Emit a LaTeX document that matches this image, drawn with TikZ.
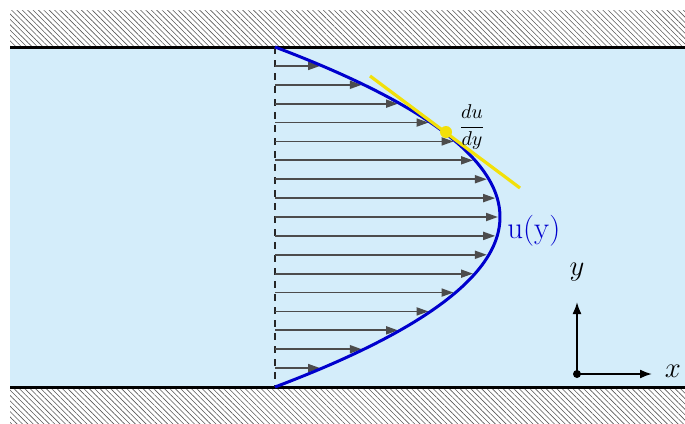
\documentclass[tikz,border=0pt]{standalone}
\usepackage{tikz}
\usetikzlibrary{arrows.meta,patterns.meta,positioning}
\definecolor{fluid}{RGB}{212,237,250}
\definecolor{profileblue}{RGB}{0,0,205}
\definecolor{tangentyellow}{RGB}{242,224,10}

\begin{document}
\begin{tikzpicture}[
    x=0.5pt, y=-0.5pt,
    % Walls
    wall/.style={pattern={Lines[angle=-45, distance=1.9pt, line width=0.3pt]}, pattern color=black!65},
    wallline/.style={line width=1.5pt, draw=black},
    % Velocity profile
    vel/.style={-{Triangle[length=6pt,width=4pt]}, line width=0.9pt, draw=black!70},
    profile/.style={line width=1.5pt, draw=profileblue},
    tangent/.style={line width=1.6pt, draw=tangentyellow},
    % Axes
    axis/.style={-{Latex[length=6pt,width=4.5pt]}, line width=0.9pt, draw=black},
    lbl/.style={font=\Large, inner sep=1pt}
]
\useasboundingbox (0,0) rectangle (685,423);

% Fluid and walls
\fill[fluid] (10,47) rectangle (685,387);
\fill[wall] (10,10) rectangle (685,47);
\fill[wall] (10,387) rectangle (685,423);
\draw[wallline] (10,47) -- (685,47);
\draw[wallline] (10,387) -- (685,387);

% Reference line
\coordinate (top) at (275,47);
\coordinate (bottom) at (275,387);
\draw[line width=0.7pt, draw=black!85, dash pattern=on 3.5pt off 3pt] (top) -- (bottom);

% Velocity arrows
\foreach \i in {1,...,17} {
    \pgfmathsetmacro{\yy}{47+\i*340/18}
    \pgfmathsetmacro{\uu}{275+225*(1-((\yy-217)/170)^2)-2}
    \coordinate (v\i) at (275,\yy);
    \coordinate (w\i) at (\uu,\yy);
    \draw[vel] (v\i) -- (w\i);
}

% Profile
\draw[profile] plot[domain=47:387, samples=80, smooth] ({275+225*(1-((\x-217)/170)^2)}, \x);
\node[text=profileblue, font=\fontsize{15.5}{18}\selectfont, anchor=west, inner sep=1pt] (uy) at (505,231) {u(y)};

% Tangent
\coordinate (ta) at (370,76);
\coordinate (tb) at (520,188);
\draw[tangent] (ta) -- (tb);
\fill[tangentyellow] (446,132) circle (3pt);
\node[inner sep=1pt] (dudy) at (472,127) {$\displaystyle\frac{du}{dy}$};

% Axes
\coordinate (origin) at (577,374);
\coordinate (xend) at (652,374);
\coordinate (yend) at (577,302);
\draw[axis] (origin) -- (xend);
\draw[axis] (origin) -- (yend);
\fill (origin) circle (2pt);
\node[lbl] (xlab) at (673,371) {$x$};
\node[lbl] (ylab) at (577,272) {$y$};

\end{tikzpicture}
\end{document}
